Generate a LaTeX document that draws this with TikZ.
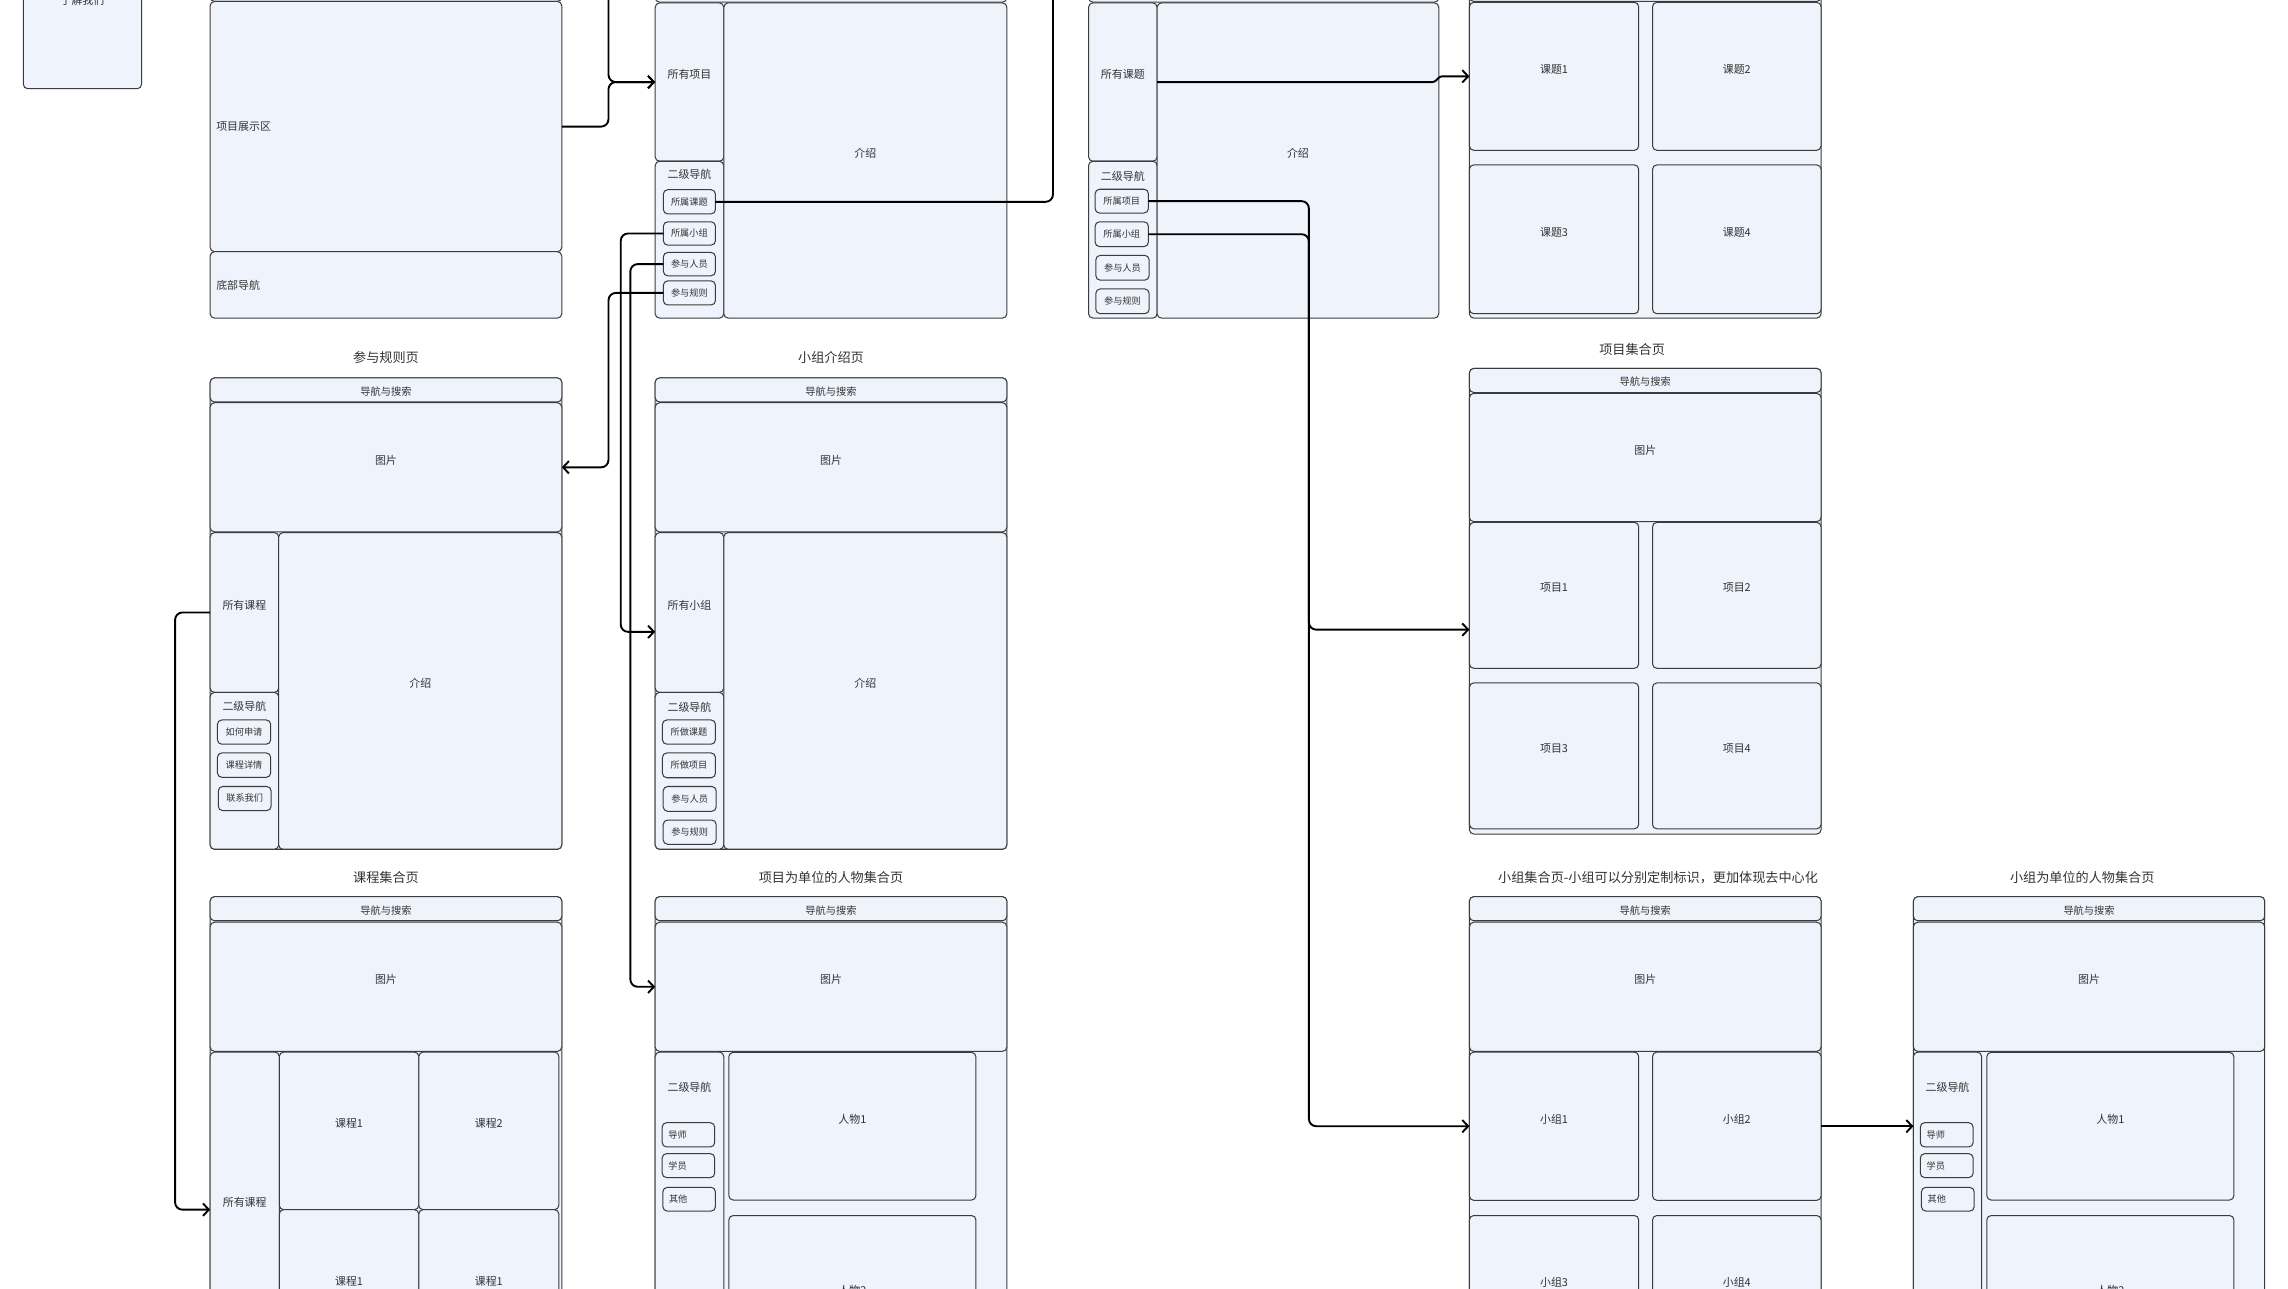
\documentclass[tikz,border=0pt]{standalone}
\usepackage{fontspec}
\newfontfamily\cjk{Noto Sans CJK SC}
\usetikzlibrary{arrows.meta,calc}
\definecolor{boxfill}{HTML}{EEF3FC}
\definecolor{stroke}{HTML}{3C3C3C}
\definecolor{txtc}{HTML}{333333}
\tikzset{
 box/.style={draw=stroke,fill=boxfill,rounded corners=3pt,line width=0.7pt,inner sep=0pt,outer sep=0pt},
 txt/.style={font=\cjk\fontsize{7.5}{9}\selectfont,text=txtc,inner sep=0pt},
 lbl/.style={txt,yshift=5pt},
 btn/.style={txt,font=\cjk\fontsize{6.3}{7.5}\selectfont},
 pbtn/.style={btn,xshift=-7.5pt},
 navl/.style={txt,font=\cjk\fontsize{7}{8}\selectfont,yshift=-1pt},
 leftl/.style={txt,anchor=west,xshift=-116.5pt},
 ttl/.style={txt,font=\cjk\fontsize{9}{11}\selectfont},
 conn/.style={draw=black,line width=1.3pt,rounded corners=5pt,-{Straight Barb[length=4pt,width=8.5pt]}},
 wire/.style={draw=black,line width=1.3pt,rounded corners=5pt},
}
% \ubox[label style]{name}{x1}{y1}{x2}{y2}{text}
\newcommand{\ubox}[7][lbl]{%
  \pgfmathsetmacro\bxcx{(#3+#5)/2}%
  \pgfmathsetmacro\bxcy{(#4+#6)/2}%
  \pgfmathsetmacro\bxw{#5-#3}%
  \pgfmathsetmacro\bxh{#6-#4}%
  \node[box,minimum width=\bxw pt,minimum height=\bxh pt] (#2) at (\bxcx,\bxcy) {};
  \node[#1] (#2-l) at (#2.center) {#7};
}
\begin{document}
\begin{tikzpicture}[x=1pt,y=-1pt]
\useasboundingbox (0,0) rectangle (1568,883);
\fill[white] (0,0) rectangle (1568,883);

% ---------- top-left small box
\ubox[txt,yshift=10pt]{about}{16}{-40}{97}{60.8}{了解我们}

% ---------- column A top
\ubox{a-top}{144}{-40}{385}{1}{}
\ubox[leftl]{a-show}{144}{1}{385}{172.5}{项目展示区}
\ubox[leftl]{a-foot}{144}{172.5}{385}{218}{底部导航}

% ---------- column B top
\ubox{b-top}{449}{-40}{690}{1.5}{}
\ubox{b-all}{449}{2}{496}{110.5}{所有项目}
\ubox[txt,yshift=44.75pt]{b-nav}{449}{110.5}{496}{218}{二级导航}
\ubox{b-intro}{496}{2}{690}{218}{介绍}
\ubox[btn]{b-k}{454.6}{130}{490.3}{146.6}{所属课题}
\ubox[btn]{b-g}{454.6}{152}{490.3}{168}{所属小组}
\ubox[btn]{b-p}{454.6}{173}{490.3}{189}{参与人员}
\ubox[btn]{b-r}{454.6}{192.5}{490.3}{209}{参与规则}

% ---------- column C top
\ubox{c-top}{746}{-40}{986}{1.5}{}
\ubox{c-all}{746}{2}{793}{110.5}{所有课题}
\ubox[txt,yshift=43.25pt]{c-nav}{746}{110.5}{793}{218}{二级导航}
\ubox{c-intro}{793}{2}{986}{218}{介绍}
\ubox[btn]{c-pk}{750.5}{129.7}{787}{146}{所属项目}
\ubox[btn]{c-pg}{750.5}{152}{787}{169}{所属小组}
\ubox[btn]{c-pp}{751}{175}{787.5}{192}{参与人员}
\ubox[btn]{c-pr}{751}{198}{787.5}{215}{参与规则}

% ---------- column D top
\ubox{d-out}{1007}{-40}{1248}{218}{}
\ubox{d-top}{1007}{-40}{1248}{1}{}
\ubox{k1}{1007}{1.6}{1123}{103}{课题1}
\ubox{k2}{1132.5}{1.6}{1248}{103}{课题2}
\ubox{k3}{1007}{113}{1123}{215}{课题3}
\ubox{k4}{1132.5}{113}{1248}{215}{课题4}

% ---------- 参与规则页
\node[ttl] (r-title) at (264.5,245) {参与规则页};
\ubox{r-out}{144}{259}{385}{582}{}
\ubox[navl]{r-navs}{144}{259}{385}{275.5}{导航与搜索}
\ubox{r-img}{144}{276}{385}{364.5}{图片}
\ubox{r-all}{144}{365}{191}{474.5}{所有课程}
\ubox[txt,yshift=44.25pt]{r-nav}{144}{474.5}{191}{582}{二级导航}
\ubox{r-intro}{191}{365}{385}{582}{介绍}
\ubox[btn]{r-b1}{149}{493.4}{185.5}{510}{如何申请}
\ubox[btn]{r-b2}{149}{516}{185.5}{532.7}{课程详情}
\ubox[btn]{r-b3}{149.6}{539}{185.8}{555.5}{联系我们}

% ---------- 小组介绍页
\node[ttl] (t-title) at (569.5,245) {小组介绍页};
\ubox{t-out}{449}{259}{690}{582}{}
\ubox[navl]{t-navs}{449}{259}{690}{275.5}{导航与搜索}
\ubox{t-img}{449}{276}{690}{364.5}{图片}
\ubox{t-all}{449}{365}{496}{474.5}{所有小组}
\ubox[txt,yshift=43.5pt]{t-nav}{449}{474.5}{496}{582}{二级导航}
\ubox{t-intro}{496}{365}{690}{582}{介绍}
\ubox[btn]{t-b1}{454}{493.4}{490.3}{510}{所做课题}
\ubox[btn]{t-b2}{454}{516}{490.3}{533}{所做项目}
\ubox[btn]{t-b3}{454.5}{539}{490.8}{556}{参与人员}
\ubox[btn]{t-b4}{454.5}{562}{490.8}{578.6}{参与规则}

% ---------- 项目集合页
\node[ttl] (p-title) at (1118.5,239.5) {项目集合页};
\ubox{p-out}{1007}{252.5}{1248}{571.6}{}
\ubox[navl]{p-navs}{1007}{252.5}{1248}{269}{导航与搜索}
\ubox{p-img}{1007}{269.6}{1248}{357.5}{图片}
\ubox{p1}{1007}{358}{1123}{458}{项目1}
\ubox{p2}{1132.5}{358}{1248}{458}{项目2}
\ubox{p3}{1007}{468}{1123}{568}{项目3}
\ubox{p4}{1132.5}{468}{1248}{568}{项目4}

% ---------- 课程集合页
\node[ttl] (s-title) at (264.5,601.5) {课程集合页};
\ubox{s-out}{144}{614.5}{385}{960}{}
\ubox[navl]{s-navs}{144}{614.5}{385}{631}{导航与搜索}
\ubox{s-img}{144}{632}{385}{720.5}{图片}
\ubox{s-all}{144}{721}{191.4}{937}{所有课程}
\ubox{s1}{191.4}{721}{287}{829}{课程1}
\ubox{s2}{287}{721}{383}{829}{课程2}
\ubox{s3}{191.4}{829}{287}{937}{课程1}
\ubox{s4}{287}{829}{383}{937}{课程1}

% ---------- 项目为单位的人物集合页
\node[ttl] (m-title) at (569.5,601.5) {项目为单位的人物集合页};
\ubox{m-out}{449}{614.5}{690}{960}{}
\ubox[navl]{m-navs}{449}{614.5}{690}{631}{导航与搜索}
\ubox{m-img}{449}{632}{690}{720.5}{图片}
\ubox[txt,yshift=95.1pt]{m-nav}{449}{721}{496}{960}{二级导航}
\ubox[pbtn]{m-b1}{453.8}{769.4}{489.8}{786}{导师}
\ubox[pbtn]{m-b2}{453.8}{790.6}{489.8}{807}{学员}
\ubox[pbtn]{m-b3}{454.3}{813.7}{490.3}{830}{其他}
\ubox{h1}{499.5}{721.2}{668.8}{822.4}{人物1}
\ubox{h2}{499.5}{833}{668.8}{945}{人物2}

% ---------- 小组集合页
\node[ttl] (q-title) at (1136.3,601.5) {小组集合页-小组可以分别定制标识，更加体现去中心化};
\ubox{q-out}{1007}{614.5}{1248}{960}{}
\ubox[navl]{q-navs}{1007}{614.5}{1248}{631}{导航与搜索}
\ubox{q-img}{1007}{632}{1248}{720.5}{图片}
\ubox{g1}{1007}{721}{1123}{822.6}{小组1}
\ubox{g2}{1132.5}{721}{1248}{822.6}{小组2}
\ubox{g3}{1007}{833}{1123}{934}{小组3}
\ubox{g4}{1132.5}{833}{1248}{934}{小组4}

% ---------- 小组为单位的人物集合页
\node[ttl] (e-title) at (1427,601.5) {小组为单位的人物集合页};
\ubox{e-out}{1311.3}{614.5}{1552}{960}{}
\ubox[navl]{e-navs}{1311.3}{614.5}{1552}{631}{导航与搜索}
\ubox{e-img}{1311.3}{632}{1552}{720.5}{图片}
\ubox[txt,yshift=95.1pt]{e-nav}{1311.3}{721}{1358}{960}{二级导航}
\ubox[pbtn]{e-b1}{1316}{769.4}{1352.2}{786}{导师}
\ubox[pbtn]{e-b2}{1316}{790.6}{1352.2}{807}{学员}
\ubox[pbtn]{e-b3}{1316.8}{813.7}{1352.9}{830}{其他}
\ubox{eh1}{1361.6}{721.2}{1530.9}{822.4}{人物1}
\ubox{eh2}{1361.6}{833}{1530.9}{945}{人物2}

% ---------- connectors
\coordinate (topA) at (417,-10);
\coordinate (topB) at (721.6,-10);
\coordinate (jog) at (987,52.3);
\draw[conn] (topA) |- (b-all.west);
\draw[conn] (a-show.east) -- ++(32,0) |- (b-all.west);
\draw[wire] (b-k.east) -| (topB);
\draw[conn] (b-r.west) -- ++(-37.6,0) |- (r-img.east);
\draw[conn] (b-g.west) -- ++(-29.2,0) |- ([yshift=-13.25pt]t-all.west);
\draw[conn] (b-p.west) -- ++(-22.6,0) |- (m-img.west);
\draw[conn] (r-all.west) -- ++(-24,0) |- (s-all.west);
\draw[conn,rounded corners=1.5pt] (c-all.east) -- ++(190,0) -- (jog) -- (k1.west);
\draw[conn] (c-pk.east) -- ++(110,0) |- ([yshift=-23.5pt]p1.west);
\draw[conn] (c-pg.east) -- ++(110,0) |- (g1.west);
\draw[conn] (g2.east) -- (g2.east -| e-nav.west);
\end{tikzpicture}
\end{document}
